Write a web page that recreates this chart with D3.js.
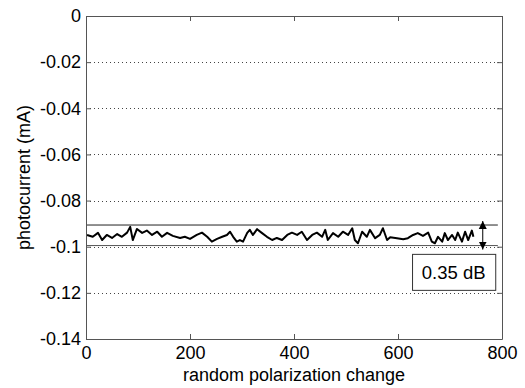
<!DOCTYPE html>
<html>
<head>
<meta charset="utf-8">
<script src="https://cdn.jsdelivr.net/npm/d3@7"></script>
<style>
  body { margin: 0; background: #fff; }
  text { font-family: "Liberation Sans", Arial, sans-serif; fill: #000; }
</style>
</head>
<body>
<svg id="svg" width="525" height="388"></svg>
<script>
// polarization change index
var xs = [2, 13, 23, 31, 40, 50, 60, 69, 79, 85, 90, 98, 108, 117, 127, 137, 146, 156, 167, 181,
  190, 200, 213, 223, 233, 242, 252, 262, 271, 277, 283, 290, 296, 302, 310, 315, 321, 329, 338, 348,
  358, 367, 377, 387, 396, 406, 415, 425, 435, 444, 454, 460, 465, 475, 485, 494, 504, 512, 517, 523,
  531, 540, 546, 556, 565, 571, 579, 585, 598, 610, 619, 629, 638, 648, 658, 665, 671, 677, 685, 690,
  696, 704, 710, 715, 723, 729, 735, 742, 745];

// photocurrent (mA)
var current = [-0.0949, -0.0957, -0.0940, -0.0971, -0.0949, -0.0962, -0.0945, -0.0957, -0.0939, -0.0914,
  -0.0971, -0.0923, -0.0940, -0.0930, -0.0949, -0.0935, -0.0957, -0.0940, -0.0953, -0.0962,
  -0.0957, -0.0966, -0.0949, -0.0939, -0.0957, -0.0978, -0.0966, -0.0957, -0.0949, -0.0935,
  -0.0957, -0.0978, -0.0971, -0.0978, -0.0940, -0.0927, -0.0949, -0.0924, -0.0940, -0.0957,
  -0.0971, -0.0962, -0.0971, -0.0949, -0.0939, -0.0949, -0.0935, -0.0971, -0.0949, -0.0939,
  -0.0957, -0.0927, -0.0971, -0.0941, -0.0957, -0.0935, -0.0949, -0.0920, -0.0971, -0.0985,
  -0.0935, -0.0957, -0.0927, -0.0963, -0.0949, -0.0920, -0.0971, -0.0959, -0.0963, -0.0968,
  -0.0963, -0.0949, -0.0941, -0.0953, -0.0939, -0.0978, -0.0985, -0.0957, -0.0978, -0.0941,
  -0.0971, -0.0949, -0.0971, -0.0939, -0.0978, -0.0935, -0.0971, -0.0930, -0.0957];

var xTicks = [0, 200, 400, 600, 800];
var yTicks = [0, -0.02, -0.04, -0.06, -0.08, -0.1, -0.12, -0.14];
var yTickLabels = ["0", "-0.02", "-0.04", "-0.06", "-0.08", "-0.1", "-0.12", "-0.14"];

// max / min envelope and the annotation
var upper = -0.0906;
var lower = -0.0995;
var bandSpan = [0, 792];
var arrowX = 763;
var boxX = [627, 787];
var boxY = [-0.1031, -0.1187];
var boxLabel = "0.35 dB";

var margin = { left: 86, top: 16, right: 23, bottom: 49 };
var width = 525 - margin.left - margin.right;
var height = 388 - margin.top - margin.bottom;
var axisColor = "#555";
var fontFamily = '"Liberation Sans", Arial, sans-serif';

var svg = d3.select("#svg");
svg.append("defs").append("marker")
  .attr("id", "head")
  .attr("viewBox", "0 0 8 10")
  .attr("refX", 8).attr("refY", 5)
  .attr("markerWidth", 8).attr("markerHeight", 10)
  .attr("markerUnits", "userSpaceOnUse")
  .attr("orient", "auto-start-reverse")
  .append("path")
  .attr("d", "M0,1L8,5L0,9Z")
  .attr("fill", "#000");

var g = svg.append("g")
  .attr("transform", "translate(" + margin.left + "," + margin.top + ")");

var x = d3.scaleLinear().domain([0, 800]).range([0, width]);
var y = d3.scaleLinear().domain([-0.14, 0]).range([height, 0]);

// horizontal dotted grid
g.selectAll(".grid")
  .data(yTicks.filter(function(d) { return d < 0 && d > -0.14; }))
  .enter().append("line")
  .attr("x1", 0).attr("x2", width)
  .attr("y1", function(d) { return Math.round(y(d)) + 0.5; })
  .attr("y2", function(d) { return Math.round(y(d)) + 0.5; })
  .attr("stroke", "#444")
  .attr("stroke-dasharray", "1,3");

// envelope lines
g.append("line")
  .attr("x1", x(bandSpan[0])).attr("x2", x(bandSpan[1]))
  .attr("y1", y(upper)).attr("y2", y(upper))
  .attr("stroke", "#222").attr("stroke-width", 1);
g.append("line")
  .attr("x1", x(bandSpan[0])).attr("x2", x(bandSpan[1]))
  .attr("y1", y(lower)).attr("y2", y(lower))
  .attr("stroke", "#555").attr("stroke-width", 1);

// the measured trace
var line = d3.line()
  .x(function(d, i) { return x(xs[i]); })
  .y(function(d) { return y(d); });

g.append("path")
  .attr("d", line(current))
  .attr("fill", "none")
  .attr("stroke", "#000")
  .attr("stroke-width", 2)
  .attr("stroke-linejoin", "round");

// double arrow
g.append("line")
  .attr("x1", x(arrowX)).attr("x2", x(arrowX))
  .attr("y1", y(upper) - 4).attr("y2", y(lower) + 4)
  .attr("stroke", "#000").attr("stroke-width", 1)
  .attr("marker-start", "url(#head)")
  .attr("marker-end", "url(#head)");

// text box
g.append("rect")
  .attr("x", x(boxX[0]) + 0.5)
  .attr("y", y(boxY[0]) + 0.5)
  .attr("width", x(boxX[1]) - x(boxX[0]))
  .attr("height", y(boxY[1]) - y(boxY[0]))
  .attr("fill", "#fff")
  .attr("stroke", "#333");
g.append("text")
  .attr("x", x((boxX[0] + boxX[1]) / 2))
  .attr("y", y((boxY[0] + boxY[1]) / 2) + 7)
  .attr("text-anchor", "middle")
  .attr("font-size", 18.5)
  .text(boxLabel);

// axes box with inward ticks on all sides
var tickLen = 5;
var axBottom = g.append("g").attr("transform", "translate(0," + height + ")")
  .call(d3.axisBottom(x).tickValues(xTicks).tickSizeInner(-tickLen).tickSizeOuter(0).tickPadding(7));
var axLeft = g.append("g")
  .call(d3.axisLeft(y).tickValues(yTicks).tickSizeInner(-tickLen).tickSizeOuter(0).tickPadding(5)
    .tickFormat(function(d, i) { return yTickLabels[i]; }));
var axTop = g.append("g")
  .call(d3.axisTop(x).tickValues(xTicks).tickSizeInner(-tickLen).tickSizeOuter(0).tickFormat(""));
var axRight = g.append("g").attr("transform", "translate(" + width + ",0)")
  .call(d3.axisRight(y).tickValues(yTicks).tickSizeInner(-tickLen).tickSizeOuter(0).tickFormat(""));

[axBottom, axLeft, axTop, axRight].forEach(function(a) {
  a.select(".domain").attr("stroke", axisColor);
  a.selectAll(".tick line").attr("stroke", axisColor);
  a.selectAll("text").attr("font-size", 18).attr("fill", "#000")
    .attr("font-family", fontFamily);
});

// axis titles
g.append("text")
  .attr("x", width / 2)
  .attr("y", height + 42)
  .attr("text-anchor", "middle")
  .attr("font-size", 18)
  .text("random polarization change");

g.append("text")
  .attr("transform", "translate(" + (-56) + "," + (height / 2) + ") rotate(-90)")
  .attr("text-anchor", "middle")
  .attr("font-size", 18)
  .text("photocurrent (mA)");
</script>
</body>
</html>
